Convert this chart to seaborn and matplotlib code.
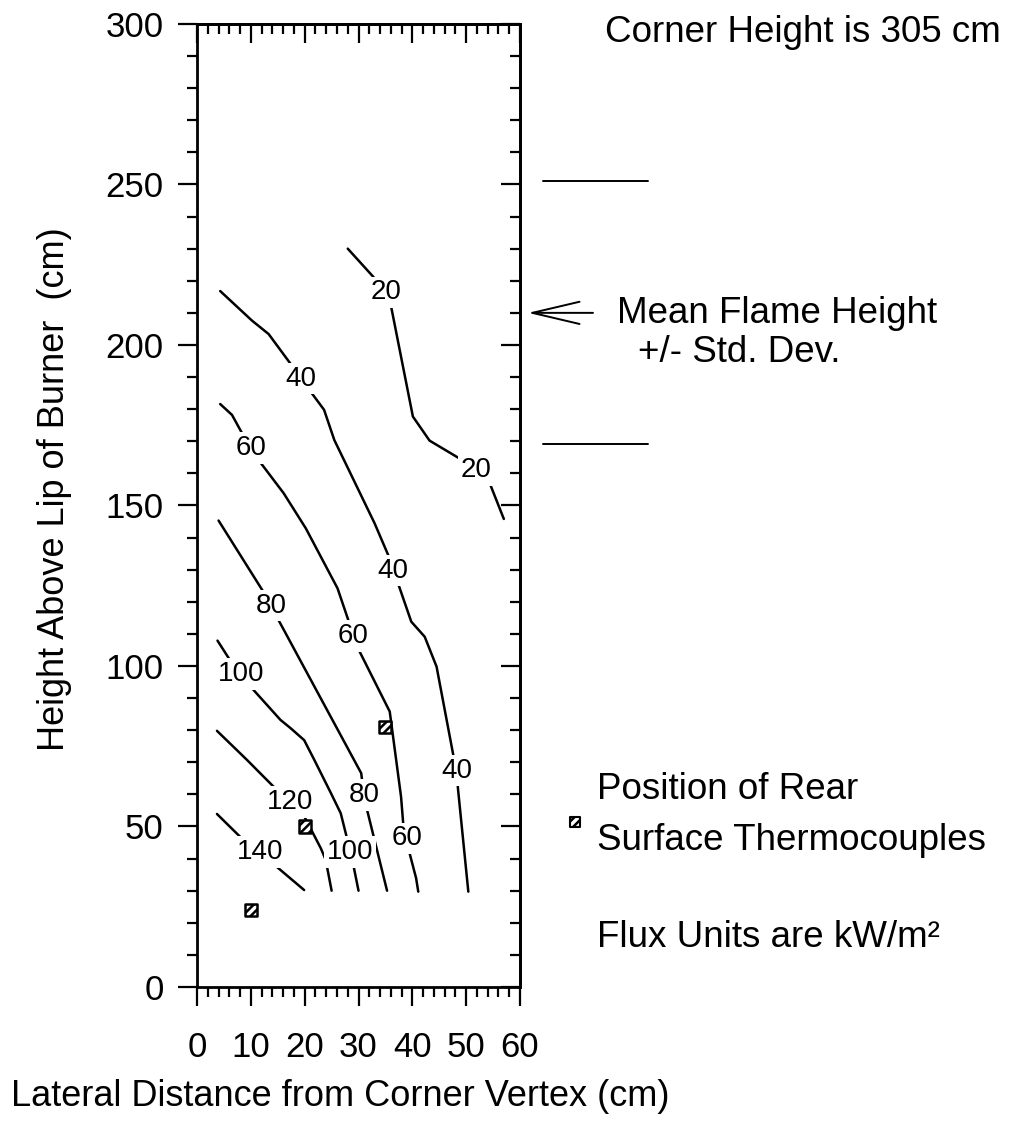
import pandas as pd
import seaborn as sns
import matplotlib.pyplot as plt
import matplotlib.transforms as mtransforms
from matplotlib.ticker import MultipleLocator

# Flux contour levels (kW/m2) and points
levels = [20, 40, 60, 80, 100, 120, 140]

c20_x = [28.0, 32.6, 35.2, 36.1, 40.1, 43.2, 49.2, 51.8, 54.5, 57.0]
c20_y = [230.0, 221.5, 216.4, 211.6, 177.7, 170.2, 164.2, 161.0, 156.4, 145.8]

c40_x = [4.3, 10.2, 13.3, 17.3, 19.3, 21.3, 23.6, 25.5, 33.0, 35.5, 36.4, 37.6,
         39.8, 42.3, 44.5, 47.6, 48.2, 48.5, 50.4]
c40_y = [216.8, 207.6, 203.4, 194.3, 189.5, 185.0, 179.8, 170.4, 144.4, 134.6, 129.7, 124.5,
         113.8, 109.1, 99.8, 72.3, 67.4, 61.4, 29.7]

c60_x = [4.3, 6.5, 8.2, 10.1, 11.9, 16.1, 20.2, 26.1, 28.0, 29.0, 30.2, 35.8,
         37.9, 38.3, 39.0, 39.5, 40.7, 41.1]
c60_y = [181.6, 178.2, 173.0, 167.9, 163.1, 153.8, 142.9, 124.2, 114.8, 109.4, 104.5, 85.8,
         59.3, 51.0, 46.3, 41.6, 33.9, 29.7]

c80_x = [4.0, 12.1, 13.7, 15.2, 30.5, 31.0, 31.6, 35.3]
c80_y = [145.3, 123.7, 118.8, 114.1, 66.6, 59.8, 55.1, 30.0]

c100_x = [3.8, 5.9, 8.1, 10.4, 15.5, 17.4, 19.9, 21.8, 24.9, 26.7, 27.7, 28.4, 29.1, 30.0]
c100_y = [107.9, 102.4, 97.5, 92.7, 83.2, 80.6, 76.9, 70.7, 60.3, 54.1, 47.4, 42.1, 37.5, 30.0]

c120_x = [3.7, 9.3, 14.1, 17.2, 20.0, 23.0, 23.9, 25.0]
c120_y = [79.8, 70.7, 62.6, 57.7, 52.9, 43.2, 39.6, 30.0]

c140_x = [3.7, 8.0, 11.7, 14.9, 19.9]
c140_y = [53.9, 46.8, 42.1, 37.3, 30.2]

curves_x = [c20_x, c40_x, c60_x, c80_x, c100_x, c120_x, c140_x]
curves_y = [c20_y, c40_y, c60_y, c80_y, c100_y, c120_y, c140_y]

# where the level numbers sit on the lines
label_x = [[35.2, 51.8], [19.3, 36.4, 48.2], [10.1, 29.0, 39.0], [13.7, 31.0], [8.1, 28.4], [17.2], [11.7]]
label_y = [[216.4, 161.0], [189.5, 129.7, 67.4], [167.9, 109.4, 46.3], [118.8, 59.8], [97.5, 42.1], [57.7], [42.1]]

# rear surface thermocouples
tc_x = [10, 20, 35]
tc_y = [24, 50, 81]

# mean flame height and std. dev. (cm)
flame_mean = 210
flame_std = 41

rows = []
for lev, xs, ys in zip(levels, curves_x, curves_y):
    for x, y in zip(xs, ys):
        rows.append({'level': lev, 'x': x, 'y': y})
df = pd.DataFrame(rows)
tc = pd.DataFrame({'x': tc_x, 'y': tc_y})

sns.set_style('white')
plt.rcParams['font.family'] = ['Liberation Sans', 'DejaVu Sans']
plt.rcParams['hatch.linewidth'] = 1.8
for k in ['text.color', 'axes.labelcolor', 'xtick.color', 'ytick.color', 'axes.edgecolor']:
    plt.rcParams[k] = 'black'

fig = plt.figure(figsize=(10.22, 11.35), dpi=100)
ax = fig.add_axes([0.1928, 0.1304, 0.316, 0.8485])

sns.lineplot(data=df, x='x', y='y', units='level', estimator=None, sort=False,
             color='black', linewidth=1.8, ax=ax, legend=False)

for lev, lx, ly in zip(levels, label_x, label_y):
    for x, y in zip(lx, ly):
        ax.text(x, y, str(lev), fontsize=20, ha='center', va='center', zorder=5,
                bbox=dict(boxstyle='square,pad=0.1', fc='white', ec='none'))

sns.scatterplot(data=tc, x='x', y='y', marker='s', s=75, facecolor='white',
                edgecolor='black', linewidth=1.8, hatch='////', ax=ax, zorder=6)

ax.set_xlim(0, 60)
ax.set_ylim(0, 300)
ax.xaxis.set_major_locator(MultipleLocator(10))
ax.xaxis.set_minor_locator(MultipleLocator(2))
ax.yaxis.set_major_locator(MultipleLocator(50))
ax.yaxis.set_minor_locator(MultipleLocator(10))
ax.tick_params(which='both', direction='out', width=1.6, color='black',
               bottom=True, left=True, top=False, right=False)
ax.tick_params(which='major', length=14, labelsize=25)
ax.tick_params(which='minor', length=7)
ax.tick_params(axis='x', pad=18)
ax.tick_params(axis='y', pad=10)

for s in ax.spines.values():
    s.set_linewidth(2.0)
    s.set_color('black')

# top and right ticks point inward
secx = ax.secondary_xaxis('top')
secx.xaxis.set_major_locator(MultipleLocator(10))
secx.xaxis.set_minor_locator(MultipleLocator(2))
secx.tick_params(which='both', direction='in', width=1.6, top=True, labeltop=False)
secx.tick_params(which='major', length=14)
secx.tick_params(which='minor', length=7)
secx.spines['top'].set_linewidth(2.0)
secy = ax.secondary_yaxis('right')
secy.yaxis.set_major_locator(MultipleLocator(50))
secy.yaxis.set_minor_locator(MultipleLocator(10))
secy.tick_params(which='both', direction='in', width=1.6, right=True, labelright=False)
secy.tick_params(which='major', length=14)
secy.tick_params(which='minor', length=7)
secy.spines['right'].set_linewidth(2.0)

ax.set_xlabel('Lateral Distance from Corner Vertex (cm)', fontsize=26)
ax.xaxis.set_label_coords(0.443, -0.096)
ax.set_ylabel('Height Above Lip of Burner  (cm)', fontsize=26)
ax.yaxis.set_label_coords(-0.387, 0.517)

# flame height marks outside the axes
trans = mtransforms.blended_transform_factory(ax.transAxes, ax.transData)
for h in [flame_mean + flame_std, flame_mean - flame_std]:
    ax.plot([1.071, 1.396], [h, h], color='black', linewidth=1.4, transform=trans, clip_on=False)
ax.annotate('', xy=(1.025, flame_mean), xycoords=trans, xytext=(1.226, flame_mean), textcoords=trans,
            arrowprops=dict(arrowstyle='->,head_length=3.4,head_width=0.8', lw=1.4,
                            color='black', shrinkA=0, shrinkB=0))

fig.text(0.592, 0.971, 'Corner Height is 305 cm', fontsize=26.5, ha='left', va='center')
fig.text(0.6037, 0.7242, 'Mean Flame Height', fontsize=26.5, ha='left', va='center')
fig.text(0.6243, 0.689, '+/- Std. Dev.', fontsize=26.5, ha='left', va='center')

ax.scatter([1.17], [0.171], marker='s', s=50, facecolor='white', edgecolor='black',
           linewidth=1.5, hatch='////', transform=ax.transAxes, clip_on=False)
fig.text(0.584, 0.304, 'Position of Rear', fontsize=26.5, ha='left', va='center')
fig.text(0.584, 0.2595, 'Surface Thermocouples', fontsize=26.5, ha='left', va='center')
fig.text(0.584, 0.1744, 'Flux Units are kW/m\u00b2', fontsize=26.5, ha='left', va='center')

fig.savefig('out.png', dpi=100)
